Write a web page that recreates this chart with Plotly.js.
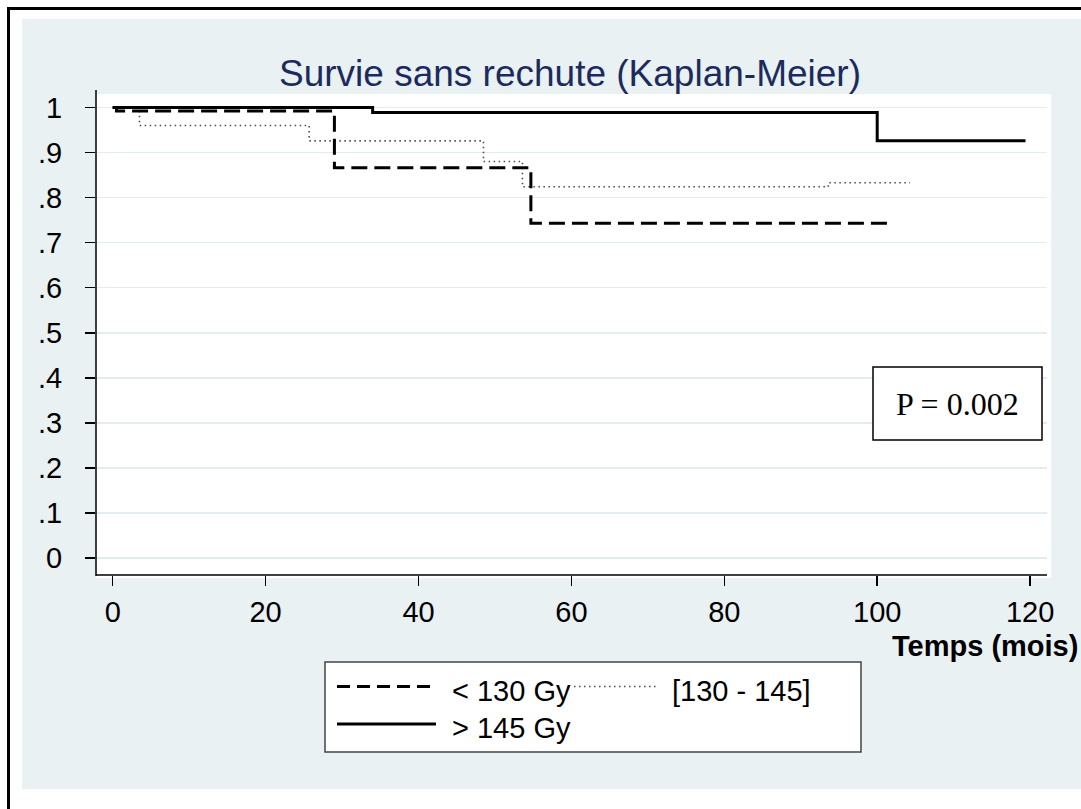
<!DOCTYPE html>
<html>
<head>
<meta charset="utf-8">
<script src="https://cdn.plot.ly/plotly-3.0.1.min.js"></script>
<style>html,body{margin:0;padding:0;background:#fff;}#chart{width:1081px;height:809px;}</style>
</head>
<body>
<div id="chart"></div>
<script>
// ---- data ----
const seriesNames = ["< 130 Gy", "[130 - 145]", "> 145 Gy"];
const timeLt130 = [0, 0.5, 29, 54.7, 102.1];
const survLt130 = [1, 0.992, 0.866, 0.743, 0.743];
const timeMid = [0, 3.5, 25.7, 48.5, 53.6, 93.6, 104.3];
const survMid = [1, 0.960, 0.926, 0.880, 0.824, 0.833, 0.833];
const timeGt145 = [0, 34, 100, 119.4];
const survGt145 = [1, 0.989, 0.926, 0.926];
const xTickVals = [0, 20, 40, 60, 80, 100, 120];
const yTickVals = [0, 0.1, 0.2, 0.3, 0.4, 0.5, 0.6, 0.7, 0.8, 0.9, 1];
const yTickText = ["0", ".1", ".2", ".3", ".4", ".5", ".6", ".7", ".8", ".9", "1"];
const titleText = "Survie sans rechute (Kaplan-Meier)";
const xTitleText = "Temps (mois)";
const pValueText = "P = 0.002";

// ---- layout geometry (pixels) ----
const W = 1081, H = 809;
const L = 96, R = 34, T = 94, B = 234;
const PW = W - L - R, PH = H - T - B;
const px = x => (x - L) / PW;
const py = y => (H - B - y) / PH;

const SANS = "Liberation Sans, Arial, sans-serif";
const SERIF = "Liberation Serif, Times New Roman, serif";

const styles = [
  {color: "#000", width: 3, dash: "16px,7px"},
  {color: "#4a4a4a", width: 1.6, dash: "1.5px,3.5px"},
  {color: "#000", width: 3, dash: "solid"}
];
const xs = [timeLt130, timeMid, timeGt145];
const ys = [survLt130, survMid, survGt145];
const traces = [1, 0, 2].map(i => ({
  x: xs[i], y: ys[i], type: "scatter", mode: "lines", name: seriesNames[i],
  line: Object.assign({shape: "hv"}, styles[i]), hoverinfo: "skip"
}));

function rect(x0, y0, x1, y1, fill, lineColor, lw, layer) {
  return {type: "rect", xref: "paper", yref: "paper", x0: px(x0), x1: px(x1), y0: py(y1), y1: py(y0),
    fillcolor: fill, line: {color: lineColor || "rgba(0,0,0,0)", width: lw || 0}, layer: layer || "below"};
}
function seg(x0, y0, x1, y1, color, width, dash, layer) {
  return {type: "line", xref: "paper", yref: "paper", x0: px(x0), x1: px(x1), y0: py(y0), y1: py(y1),
    line: {color: color, width: width, dash: dash || "solid"}, layer: layer || "above"};
}

const shapes = [
  rect(22, 19, 1081, 789, "#eaf1f3"),
  rect(96, 94, 1051, 578, "#ffffff"),
  {type: "path", xref: "paper", yref: "paper",
   path: `M ${px(8.5)} ${py(815)} L ${px(8.5)} ${py(8.5)} L ${px(1090)} ${py(8.5)}`,
   line: {color: "#000", width: 3}, layer: "above"},
  seg(96, 90, 96, 576, "#000", 1.5),
  seg(96, 575, 1047, 575, "#000", 1.5),
  rect(873, 367, 1042, 440, "#ffffff", "#000", 1.5, "above"),
  rect(325, 662, 861, 752, "#ffffff", "#444", 1.5, "above"),
  seg(337, 686.5, 436, 686.5, styles[0].color, 3, "13px,7px"),
  seg(574, 686.5, 658, 686.5, styles[1].color, 1.5, styles[1].dash),
  seg(337, 724, 436, 724, styles[2].color, 3)
];

function ann(text, x, y, xanchor, font) {
  return {text: text, xref: "paper", yref: "paper", x: px(x), y: py(y), xanchor: xanchor,
    yanchor: "middle", showarrow: false, font: font};
}
const annotations = [
  ann(pValueText, 957, 404, "center", {family: SERIF, size: 32, color: "#000"}),
  ann("<b>" + xTitleText + "</b>", 1080, 646, "right", {family: SANS, size: 29, color: "#000"}),
  ann(seriesNames[0], 450, 691, "left", {family: SANS, size: 29, color: "#000"}),
  ann(seriesNames[1], 670, 691, "left", {family: SANS, size: 29, color: "#000"}),
  ann(seriesNames[2], 450, 728, "left", {family: SANS, size: 29, color: "#000"})
];

const layout = {
  width: W, height: H,
  margin: {l: L, r: R, t: T, b: B, pad: 0},
  paper_bgcolor: "#ffffff", plot_bgcolor: "rgba(0,0,0,0)",
  showlegend: false,
  font: {family: SANS, size: 29, color: "#000"},
  title: {text: titleText, xref: "paper", x: px(570), xanchor: "center",
          yref: "container", y: 1 - 73 / H, yanchor: "middle",
          font: {family: SANS, size: 37, color: "#1c2b5e"}},
  xaxis: {range: [(96 - 112.7) / 7.645, (1047 - 112.7) / 7.645], tickvals: xTickVals,
          ticks: "outside", ticklen: 10, tickwidth: 1.5, tickcolor: "#000",
          showgrid: false, zeroline: false, showline: false, ticklabelstandoff: 1,
          tickfont: {family: SANS, size: 29, color: "#000"}},
  yaxis: {range: [(558 - 575) / 450.5, (558 - 94) / 450.5], tickvals: yTickVals, ticktext: yTickText,
          ticks: "outside", ticklen: 10, tickwidth: 1.5, tickcolor: "#000",
          showgrid: true, gridcolor: "#e3ecef", gridwidth: 1.5, zeroline: false, showline: false,
          ticklabelstandoff: 17, tickfont: {family: SANS, size: 29, color: "#000"}},
  shapes: shapes,
  annotations: annotations
};

Plotly.newPlot("chart", traces, layout, {staticPlot: true, displayModeBar: false});
</script>
</body>
</html>
